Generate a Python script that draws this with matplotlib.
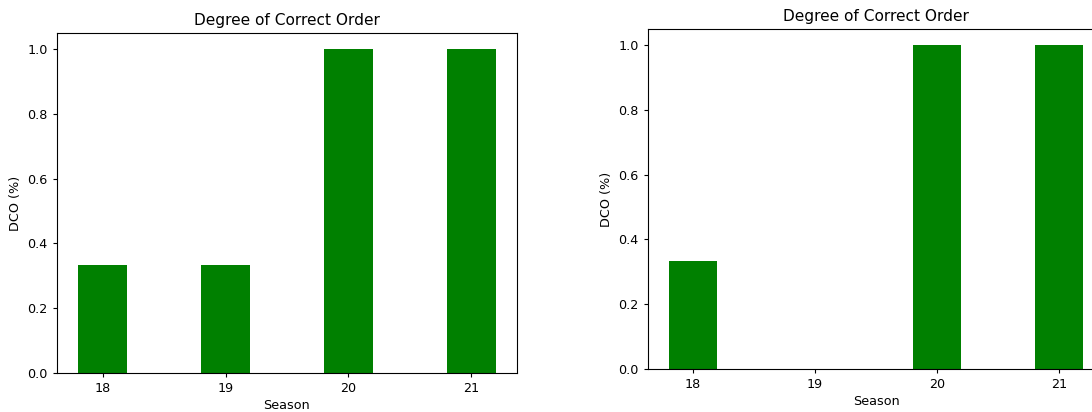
import matplotlib
matplotlib.use("Agg")
import matplotlib.pyplot as plt

seasons = [18, 19, 20, 21]
dco_left = [1/3, 1/3, 1.0, 1.0]
dco_right = [1/3, 0.0, 1.0, 1.0]

plt.rcParams['font.size'] = 9.2
plt.rcParams['xtick.major.size'] = 3.2
plt.rcParams['ytick.major.size'] = 3.2

fig = plt.figure(figsize=(10.92, 4.12), dpi=100)

# two panels side by side, the right one runs off the edge
ax1 = fig.add_axes([57/1092, 39/412, 460/1092, 340/412])
ax2 = fig.add_axes([648/1092, 43/412, 456/1092, 340/412])

for ax, vals in [(ax1, dco_left), (ax2, dco_right)]:
    ax.bar(seasons, vals, color='green', width=0.4)
    ax.set_xticks(seasons)
    ax.set_xlabel('Season', labelpad=3)
    ax.set_ylabel('DCO (%)')
    ax.set_title('Degree of Correct Order', pad=5.5)

fig.savefig('out.png', dpi=100)
